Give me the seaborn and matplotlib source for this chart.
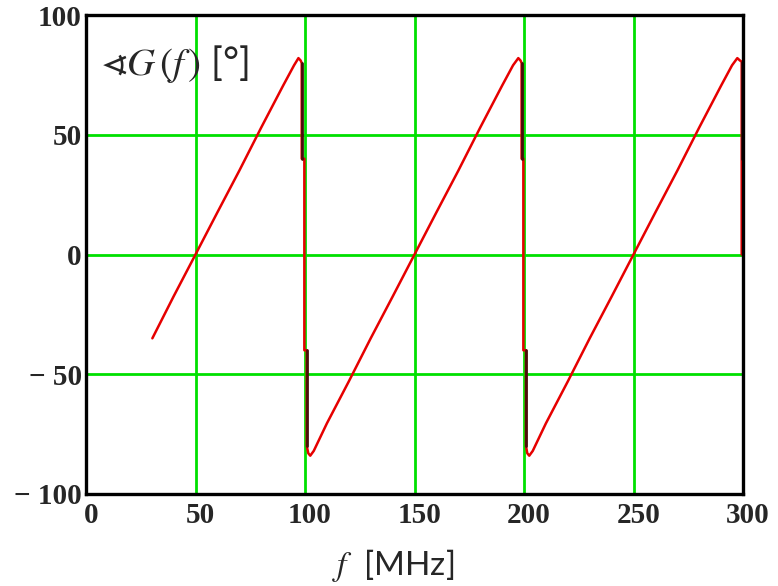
import matplotlib
matplotlib.use("Agg")
import matplotlib.pyplot as plt
import matplotlib.transforms as mtransforms
import seaborn as sns
import pandas as pd

# ---- data ----
freq_mhz = [30.3, 40, 50, 60, 70, 80, 90, 95, 97, 98, 98.5,
            98.5, 99.7, 99.7, 100.8, 100.8, 101.5, 102.4, 104,
            110, 120, 130, 140, 150, 160, 170, 180, 190, 195, 197.4, 198.4, 198.9,
            198.9, 199.7, 199.7, 200.9, 200.9, 201.5, 202.4, 204,
            210, 220, 230, 240, 250, 260, 270, 280, 290, 295, 297.4, 298.6, 299.4,
            299.4]
phase_deg = [-35, -17.5, 0, 17.6, 35, 53, 70.5, 79, 82, 81, 80,
             40, 40, -40, -40, -80, -83, -84, -82,
             -70.5, -53, -35, -17.6, 0, 17.6, 35, 53, 70.5, 79, 82, 81, 80,
             40, 40, -40, -40, -80, -83, -84, -82,
             -70.5, -53, -35, -17.6, 0, 17.6, 35, 53, 70.5, 79, 82, 81, 80.5,
             0]

# darker overlapping pieces on the vertical jumps
dark_f = [[98.5, 98.5], [100.8, 100.8], [198.9, 198.9], [200.9, 200.9], [299.4, 299.4]]
dark_p = [[80, 40], [-40, -80], [80, 40], [-40, -80], [80.5, 40]]

x_ticks = [0, 50, 100, 150, 200, 250, 300]
y_ticks = [-100, -50, 0, 50, 100]
y_tick_labels = ["\u2212 100", "\u2212 50", "0", "50", "100"]

df = pd.DataFrame({"f": freq_mhz, "phase": phase_deg})

sns.set_style("white")
plt.rcParams["mathtext.fontset"] = "stix"

fig = plt.figure(figsize=(7.78, 5.86), dpi=100)
ax = fig.add_axes([86 / 778, 1 - 494 / 586, 657 / 778, 479 / 586])

green = "#00e000"
for xv in x_ticks[1:-1]:
    ax.axvline(xv, color=green, lw=2.0, zorder=1)
for yv in y_ticks[1:-1]:
    ax.axhline(yv, color=green, lw=2.0, zorder=1)

sns.lineplot(data=df, x="f", y="phase", sort=False, estimator=None,
             color="#e60000", lw=1.8, ax=ax, zorder=3)
for fs, ps in zip(dark_f, dark_p):
    ax.plot(fs, ps, color="#4a0c0c", lw=2.0, zorder=4)

ax.set_xlim(0, 300)
ax.set_ylim(-100, 100)
ax.set_xticks(x_ticks)
ax.set_yticks(y_ticks)
ax.set_yticklabels(y_tick_labels)
ax.set_xlabel("")
ax.set_ylabel("")

for lab in ax.get_xticklabels() + ax.get_yticklabels():
    lab.set_fontfamily("Liberation Serif")
    lab.set_fontsize(21)
    lab.set_fontweight("bold")
    lab.set_fontstretch("condensed")
ax.tick_params(axis="both", length=0)
ax.tick_params(axis="x", pad=6)
ax.tick_params(axis="y", pad=3)
off = mtransforms.ScaledTranslation(5 / 100, 0, fig.dpi_scale_trans)
for lab in ax.get_xticklabels():
    lab.set_transform(lab.get_transform() + off)

for s in ax.spines.values():
    s.set_visible(True)
    s.set_color("black")
    s.set_linewidth(2.4)
    s.set_zorder(5)

fig.text(100 / 778, 1 - 64 / 586, "$\\sphericalangle G\\,(f\\,)$ [°]", fontsize=28,
         family=["Lato", "DejaVu Sans"], va="center", ha="left")
fig.text(393 / 778, 1 - 565 / 586, "$f$  [MHz]", fontsize=24,
         family=["Lato", "DejaVu Sans"], va="center", ha="center")

fig.savefig("out.png", dpi=100)
